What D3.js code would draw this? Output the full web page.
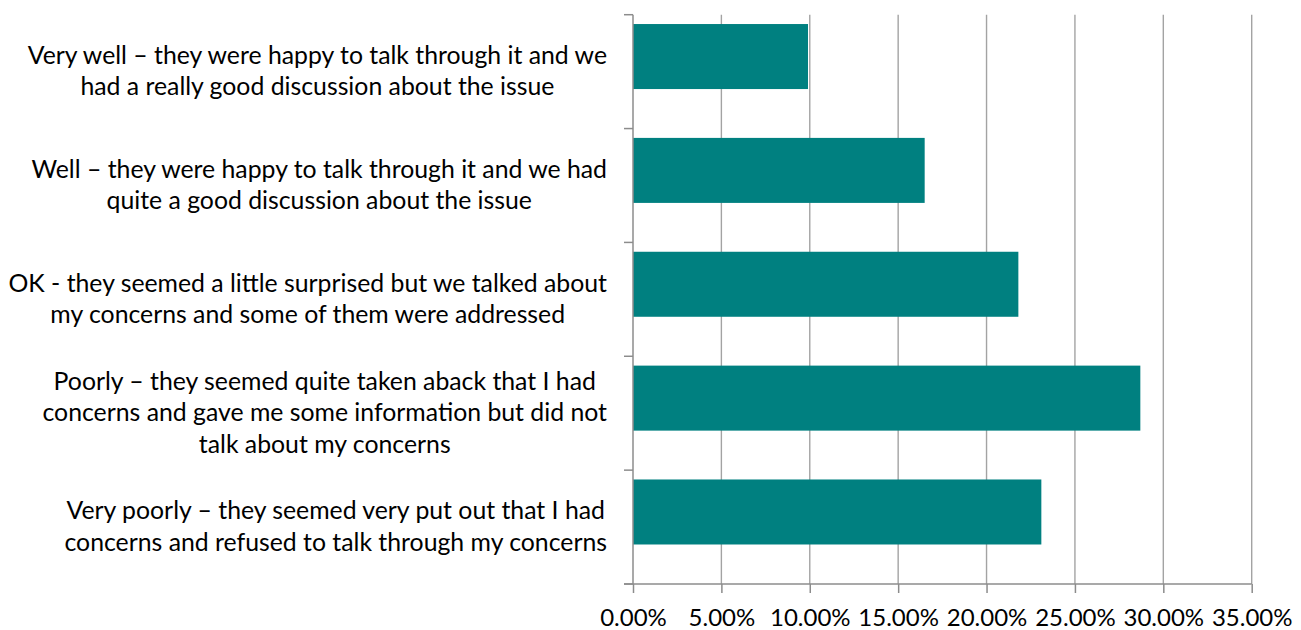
<!DOCTYPE html>
<html>
<head>
<meta charset="utf-8">
<script src="https://cdn.jsdelivr.net/npm/d3@7"></script>
<style>
  html, body { margin: 0; padding: 0; background: #fff; }
  svg text { font-family: Lato, "Open Sans", sans-serif; fill: #000; }
</style>
</head>
<body>
<svg id="chart" width="1301" height="630"></svg>
<script>
// Survey responses: how the conversation went (share of respondents)
const categories = [
  ["Very well – they were happy to talk through it and we", "had a really good discussion about the issue"],
  ["Well – they were happy to talk through it and we had", "quite a good discussion about the issue"],
  ["OK - they seemed a little surprised but we talked about", "my concerns and some of them were addressed"],
  ["Poorly – they seemed quite taken aback that I had", "concerns and gave me some information but did not", "talk about my concerns"],
  ["Very poorly – they seemed very put out that I had", "concerns and refused to talk through my concerns"]
];
const values = [9.9, 16.5, 21.8, 28.7, 23.1];
const xTicks = [0, 5, 10, 15, 20, 25, 30, 35];

const svg = d3.select("#chart");
const plotLeft = 633, plotRight = 1251.7, plotTop = 14.7, plotBottom = 584;
const labelSize = 24.8, tickSize = 24, lineGap = 31.5;

const x = d3.scaleLinear().domain([0, 35]).range([plotLeft, plotRight]);
const y = d3.scaleBand().domain(d3.range(categories.length)).range([plotTop, plotBottom]).paddingInner(0).paddingOuter(0);

const gridColor = "#a3a3a3", axisColor = "#8c8c8c";

// vertical gridlines
svg.append("g").selectAll("line")
  .data(xTicks.filter(t => t > 0))
  .join("line")
  .attr("x1", d => x(d)).attr("x2", d => x(d))
  .attr("y1", plotTop).attr("y2", plotBottom)
  .attr("stroke", gridColor).attr("stroke-width", 1.4);

// bars (offset toward the top of each band, as in a two-series cluster)
const bw = y.bandwidth();
svg.append("g").selectAll("rect")
  .data(values)
  .join("rect")
  .attr("x", x(0))
  .attr("y", (d, i) => y(i) + bw * 0.082)
  .attr("width", d => x(d) - x(0))
  .attr("height", bw * 0.571)
  .attr("fill", "#008080");

// y axis: line with outward tick marks on band boundaries
const yAxis = svg.append("g");
yAxis.append("line")
  .attr("x1", plotLeft).attr("x2", plotLeft).attr("y1", plotTop).attr("y2", plotBottom)
  .attr("stroke", axisColor).attr("stroke-width", 1.5);
yAxis.selectAll("line.tick")
  .data(d3.range(categories.length + 1))
  .join("line").attr("class", "tick")
  .attr("x1", plotLeft - 9).attr("x2", plotLeft)
  .attr("y1", i => plotTop + i * bw).attr("y2", i => plotTop + i * bw)
  .attr("stroke", axisColor).attr("stroke-width", 1.5);

// x axis via d3.axisBottom
const xAxis = svg.append("g")
  .attr("transform", `translate(0,${plotBottom})`)
  .call(d3.axisBottom(x).tickValues(xTicks).tickSize(9).tickSizeOuter(0).tickFormat(d => d.toFixed(2) + "%"));
xAxis.select(".domain").remove();
xAxis.append("line")
  .attr("x1", plotLeft - 9).attr("x2", plotRight).attr("y1", 0).attr("y2", 0)
  .attr("stroke", axisColor).attr("stroke-width", 1.5);
xAxis.selectAll(".tick line").attr("stroke", axisColor).attr("stroke-width", 1.5);
xAxis.selectAll(".tick text")
  .attr("y", 42).attr("dy", 0)
  .style("font-size", tickSize + "px")
  .style("font-family", "Lato, 'Open Sans', sans-serif")
  .attr("fill", "#000");

// category labels: block right-aligned at the axis, lines centred within the block
const labelRight = 607;
const labels = svg.append("g");
categories.forEach((lines, i) => {
  const g = labels.append("g");
  const cy = y(i) + bw / 2;
  const texts = lines.map((ln, k) =>
    g.append("text")
      .attr("text-anchor", "middle")
      .style("font-size", labelSize + "px")
      .attr("y", cy + (k - (lines.length - 1) / 2) * lineGap + 8)
      .text(ln)
  );
  const maxW = d3.max(texts, t => t.node().getComputedTextLength());
  texts.forEach(t => t.attr("x", labelRight - maxW / 2));
});
</script>
</body>
</html>
